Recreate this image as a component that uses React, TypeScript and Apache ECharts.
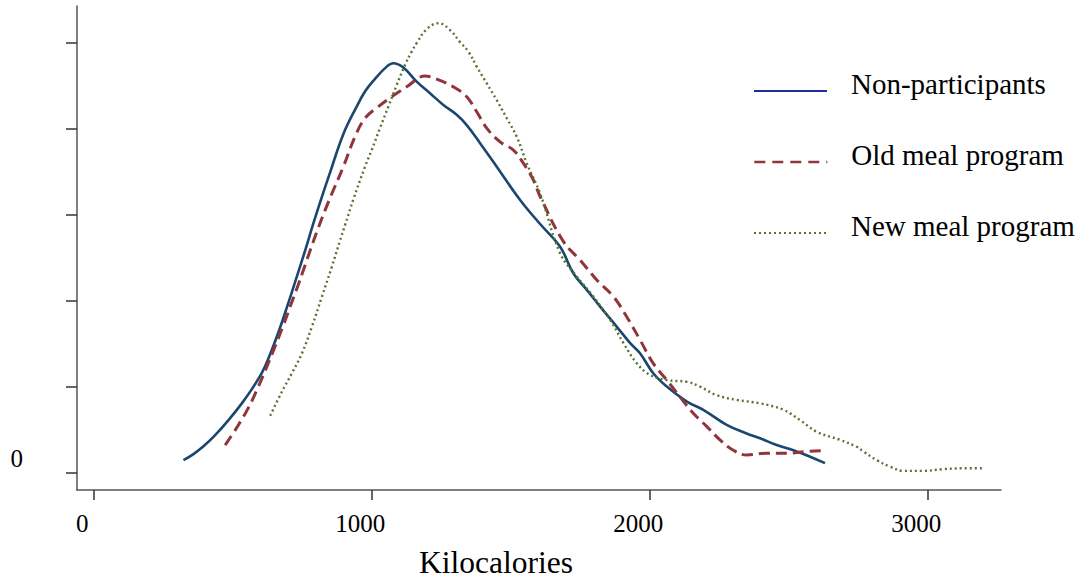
import React, { useEffect, useRef } from "react";
import * as echarts from "echarts";

const SERIES_NAMES = ["Non-participants", "Old meal program", "New meal program"];

const kcalNon = [324, 360, 396, 438, 486, 534, 570, 606, 630, 666, 696, 726, 762, 791, 827, 851, 899, 947, 977, 1007, 1055, 1079, 1115, 1163, 1211, 1259, 1307, 1343, 1391, 1451, 1535, 1607, 1679, 1727, 1775, 1823, 1883, 1931, 1967, 2014, 2063, 2135, 2194, 2278, 2350, 2398, 2458, 2518, 2578, 2632];
const densNon = [0.30, 0.44, 0.62, 0.88, 1.23, 1.62, 1.95, 2.33, 2.67, 3.28, 3.85, 4.45, 5.18, 5.80, 6.52, 6.98, 7.88, 8.52, 8.87, 9.12, 9.45, 9.53, 9.43, 9.10, 8.83, 8.56, 8.33, 8.09, 7.67, 7.12, 6.35, 5.79, 5.26, 4.64, 4.26, 3.87, 3.40, 3.02, 2.78, 2.32, 2.01, 1.66, 1.47, 1.12, 0.92, 0.81, 0.65, 0.53, 0.38, 0.23];

const kcalOld = [474, 516, 558, 588, 618, 654, 684, 708, 737, 755, 780, 809, 834, 858, 899, 941, 977, 1025, 1073, 1127, 1193, 1235, 1295, 1343, 1379, 1415, 1463, 1511, 1547, 1583, 1607, 1691, 1751, 1811, 1871, 1919, 1967, 2014, 2063, 2110, 2158, 2207, 2254, 2302, 2350, 2422, 2494, 2566, 2621];
const densOld = [0.65, 1.06, 1.52, 1.93, 2.38, 2.95, 3.45, 3.87, 4.38, 4.71, 5.18, 5.70, 6.12, 6.50, 7.12, 7.82, 8.25, 8.52, 8.75, 8.98, 9.23, 9.16, 8.98, 8.75, 8.40, 8.02, 7.70, 7.51, 7.20, 6.81, 6.43, 5.38, 4.95, 4.49, 4.10, 3.63, 3.09, 2.55, 2.16, 1.77, 1.39, 1.08, 0.77, 0.53, 0.42, 0.46, 0.46, 0.50, 0.52];

const kcalNew = [636, 678, 714, 750, 786, 822, 858, 887, 905, 935, 977, 1001, 1031, 1061, 1091, 1121, 1145, 1163, 1199, 1241, 1283, 1319, 1349, 1379, 1415, 1451, 1487, 1523, 1559, 1607, 1679, 1739, 1799, 1859, 1907, 1955, 2003, 2063, 2135, 2182, 2242, 2314, 2398, 2482, 2542, 2602, 2686, 2746, 2770, 2818, 2866, 2914, 2986, 3058, 3130, 3201];
const densNew = [1.33, 1.89, 2.32, 2.78, 3.40, 4.10, 4.80, 5.40, 5.76, 6.36, 7.12, 7.51, 8.02, 8.52, 9.02, 9.49, 9.80, 10.00, 10.32, 10.46, 10.30, 10.02, 9.80, 9.45, 9.06, 8.67, 8.25, 7.82, 7.20, 6.50, 5.11, 4.57, 4.10, 3.56, 3.02, 2.55, 2.28, 2.16, 2.12, 2.01, 1.81, 1.70, 1.62, 1.47, 1.23, 0.96, 0.77, 0.61, 0.50, 0.30, 0.15, 0.05, 0.05, 0.09, 0.11, 0.11];

const xTicks = [0, 1000, 2000, 3000];
const yTicks = [0, 2, 4, 6, 8, 10];
const yLabels = [0];

const FONT = "'Liberation Serif', 'Times New Roman', 'DejaVu Serif', serif";

const zip = (xs: number[], ys: number[]) => xs.map((x, i) => [x, ys[i]]);

export default function App() {
  const ref = useRef<HTMLDivElement>(null);
  useEffect(() => {
    if (!ref.current) return;
    const chart = echarts.init(ref.current, undefined, { renderer: "svg" });
    const colors = ["#1a476f", "#90353b", "#55752f"];
    const legendLine = [
      { color: "#1f2f9a", width: 2, type: "solid" },
      { color: "#90353b", width: 2.6, type: [11, 7] },
      { color: "#55752f", width: 2, type: [2, 3] },
    ];
    const legendTops = [69, 140, 211];
    const X_MIN = -59;
    const X_MAX = 3265;
    const LABEL_SHIFT = 40; // kcal units: moves tick labels ~11px left, as in the reference
    chart.setOption({
      animation: false,
      backgroundColor: "#fff",
      grid: { left: 77, right: 83, top: 6, bottom: 94, containLabel: false },
      legend: SERIES_NAMES.map((name, i) => ({
        left: 753,
        top: legendTops[i],
        padding: 0,
        orient: "vertical",
        itemWidth: 73,
        itemHeight: 14,
        selectedMode: false,
        formatter: (n: string) => `{t|${n}}\n{s| }`,
        textStyle: {
          fontSize: 29,
          lineHeight: 29,
          fontFamily: FONT,
          color: "#000",
          padding: [0, 0, 0, 19],
          rich: {
            t: { fontSize: 29, lineHeight: 29, fontFamily: FONT, color: "#000" },
            s: { fontSize: 10, lineHeight: 15, fontFamily: FONT },
          },
        },
        data: [
          {
            name,
            lineStyle: legendLine[i],
            itemStyle: { color: "rgba(0,0,0,0)", borderWidth: 0, opacity: 0 },
          },
        ],
      })),
      xAxis: [
        {
          type: "value",
          min: X_MIN,
          max: X_MAX,
          name: "Kilocalories",
          nameLocation: "middle",
          nameGap: 57,
          nameTextStyle: {
            fontSize: 31.5,
            lineHeight: 31,
            fontFamily: FONT,
            color: "#000",
            padding: [0, 86, 0, 0],
          },
          splitLine: { show: false },
          axisLine: { show: true, onZero: false, lineStyle: { color: "#555", width: 1.5 } },
          axisTick: {
            show: true,
            length: 10,
            customValues: xTicks,
            lineStyle: { color: "#333", width: 1.5 },
          },
          axisLabel: { show: false },
        },
        {
          type: "value",
          position: "bottom",
          min: X_MIN + LABEL_SHIFT,
          max: X_MAX + LABEL_SHIFT,
          splitLine: { show: false },
          axisLine: { show: false },
          axisTick: { show: false },
          axisLabel: {
            margin: 20,
            customValues: xTicks,
            fontSize: 25,
            lineHeight: 26,
            fontFamily: FONT,
            color: "#000",
            formatter: (v: number) => String(v),
          },
        },
      ],
      yAxis: {
        type: "value",
        min: -0.395,
        max: 10.86,
        splitLine: { show: false },
        axisLine: { show: true, onZero: false, lineStyle: { color: "#555", width: 1.5 } },
        axisTick: {
          show: true,
          length: 11,
          customValues: yTicks,
          lineStyle: { color: "#333", width: 1.5 },
        },
        axisLabel: {
          margin: 54,
          customValues: yLabels,
          fontSize: 25,
          lineHeight: 29,
          fontFamily: FONT,
          color: "#000",
          verticalAlign: "bottom",
          formatter: (v: number) => String(v),
        },
      },
      series: [
        {
          name: SERIES_NAMES[0],
          type: "line",
          xAxisIndex: 0,
          data: zip(kcalNon, densNon),
          showSymbol: false,
          symbol: "none",
          smooth: 0.4,
          lineStyle: { color: colors[0], width: 2.6, type: "solid" },
          itemStyle: { color: colors[0] },
        },
        {
          name: SERIES_NAMES[1],
          type: "line",
          xAxisIndex: 0,
          data: zip(kcalOld, densOld),
          showSymbol: false,
          symbol: "none",
          smooth: 0.4,
          lineStyle: { color: colors[1], width: 3, type: [11, 6] },
          itemStyle: { color: colors[1] },
        },
        {
          name: SERIES_NAMES[2],
          type: "line",
          xAxisIndex: 0,
          data: zip(kcalNew, densNew),
          showSymbol: false,
          symbol: "none",
          smooth: 0.4,
          lineStyle: { color: colors[2], width: 2.4, type: [2, 3] },
          itemStyle: { color: colors[2] },
        },
      ],
    });
    return () => chart.dispose();
  }, []);
  return (
    <div
      ref={ref}
      style={{ position: "fixed", left: 0, top: 0, width: 1084, height: 584, background: "#fff" }}
    />
  );
}
